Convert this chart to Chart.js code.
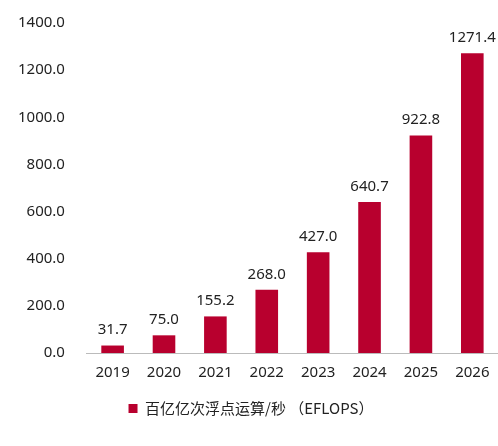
<!DOCTYPE html>
<html>
<head>
<meta charset="utf-8">
<script src="https://cdn.jsdelivr.net/npm/chart.js@4"></script>
<style>
  html, body { margin: 0; padding: 0; background: #fff; }
  #wrap { width: 498px; height: 446px; }
</style>
</head>
<body>
<div id="wrap"><canvas id="chart"></canvas></div>
<script>
const years = ['2019', '2020', '2021', '2022', '2023', '2024', '2025', '2026'];
const eflops = [31.7, 75.0, 155.2, 268.0, 427.0, 640.7, 922.8, 1271.4];
const seriesName = '百亿亿次浮点运算/秒 （EFLOPS）';

const barLabels = {
    id: 'barLabels',
    afterDatasetsDraw(chart) {
        const ctx = chart.ctx;
        const meta = chart.getDatasetMeta(0);
        ctx.save();
        ctx.font = '15px "Noto Sans", sans-serif';
        ctx.fillStyle = '#222';
        ctx.textAlign = 'center';
        ctx.textBaseline = 'bottom';
        meta.data.forEach((bar, i) => {
            ctx.fillText(eflops[i].toFixed(1), bar.x, bar.y - 8);
        });
        ctx.restore();
    }
};

new Chart(document.getElementById('chart'), {
    type: 'bar',
    data: {
        labels: years,
        datasets: [{
            label: seriesName,
            data: eflops,
            backgroundColor: '#b8002e',
            barPercentage: 0.44,
            categoryPercentage: 1.0,
        }],
    },
    options: {
        responsive: true,
        maintainAspectRatio: false,
        animation: false,
        layout: { padding: { top: 10, right: 0, left: 4, bottom: 20 } },
        scales: {
            x: {
                grid: { display: false },
                border: { color: '#bbb' },
                ticks: { color: '#222', font: { size: 15, family: 'Noto Sans' } },
            },
            y: {
                min: 0,
                max: 1400,
                grid: { display: false },
                border: { display: false },
                ticks: {
                    stepSize: 200,
                    color: '#222',
                    padding: 14,
                    font: { size: 15, family: 'Noto Sans' },
                    callback: v => v.toFixed(1),
                },
            },
        },
        plugins: {
            legend: {
                position: 'bottom',
                labels: {
                    boxWidth: 9,
                    boxHeight: 9,
                    color: '#222',
                    padding: 16,
                    font: { size: 15, family: '"Noto Sans CJK SC", sans-serif' },
                },
            },
            tooltip: { enabled: false },
        },
    },
    plugins: [barLabels],
});
</script>
</body>
</html>
